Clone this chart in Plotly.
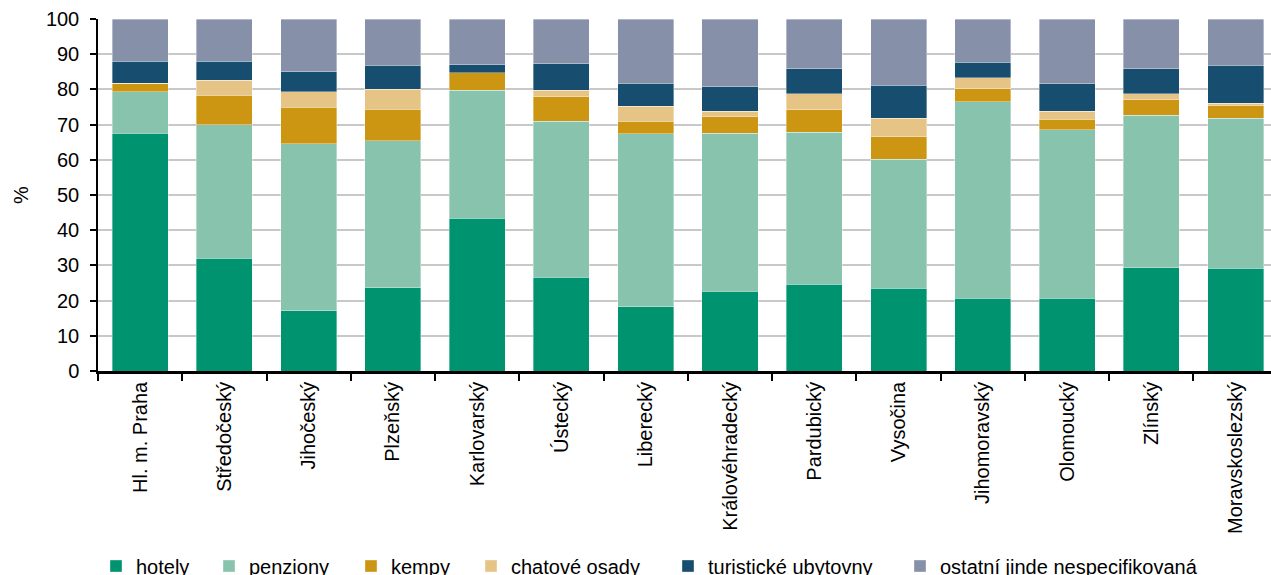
import plotly.graph_objects as go

categories = ["Hl. m. Praha", "Středočeský", "Jihočeský", "Plzeňský", "Karlovarský",
              "Ústecký", "Liberecký", "Královéhradecký", "Pardubický", "Vysočina",
              "Jihomoravský", "Olomoucký", "Zlínský", "Moravskoslezský"]

hotely = [67.6, 32.0, 17.1, 23.6, 43.4, 26.6, 18.3, 22.6, 24.6, 23.5, 20.6, 20.6, 29.4, 29.2]
penziony = [11.8, 38.0, 47.5, 41.8, 36.4, 44.4, 49.1, 44.9, 43.2, 36.6, 55.9, 47.9, 43.2, 42.6]
kempy = [2.4, 8.3, 10.4, 9.0, 5.0, 6.9, 3.5, 4.7, 6.4, 6.4, 3.7, 3.0, 4.4, 3.5]
chatove_osady = [0.0, 4.3, 4.3, 5.6, 0.0, 1.8, 4.3, 1.6, 4.5, 5.3, 3.1, 2.3, 1.8, 0.8]
turisticke_ubytovny = [6.2, 5.4, 5.7, 6.9, 2.2, 7.6, 6.5, 6.9, 7.2, 9.4, 4.4, 7.8, 7.1, 10.8]
ostatni = [12.0, 12.0, 15.0, 13.1, 13.0, 12.7, 18.3, 19.3, 14.1, 18.8, 12.3, 18.4, 14.1, 13.1]

series_names = ["hotely", "penziony", "kempy", "chatové osady", "turistické ubytovny",
                "ostatní jinde nespecifikovaná"]
series_values = [hotely, penziony, kempy, chatove_osady, turisticke_ubytovny, ostatni]
colors = ["#00936F", "#88C3AD", "#CC9612", "#E6C486", "#174D6E", "#8690A8"]

W, H = 1271, 575
legend_px = [115, 228, 370, 490, 687, 919]

fig = go.Figure()
legend_ids = ["legend", "legend2", "legend3", "legend4", "legend5", "legend6"]
for i, (name, vals, col) in enumerate(zip(series_names, series_values, colors)):
    fig.add_trace(go.Bar(
        x=categories, y=vals, name=name,
        marker=dict(color=col, line=dict(width=0.6, color="rgba(255,255,255,0.6)")),
        legend=legend_ids[i],
    ))

font = dict(family="Liberation Sans, Arial, sans-serif", size=20, color="#000000")
layout_legends = {}
for i, lid in enumerate(legend_ids):
    layout_legends[lid] = dict(
        xref="container", yref="container",
        x=(legend_px[i] - 19) / W, y=(575 - 566) / H,
        xanchor="left", yanchor="middle",
        orientation="h", font=font, bgcolor="rgba(0,0,0,0)",
        borderwidth=0, itemclick=False, itemdoubleclick=False,
    )

fig.update_layout(
    width=W, height=H,
    barmode="stack", bargap=0.335,
    plot_bgcolor="white", paper_bgcolor="white",
    margin=dict(l=98, r=0, t=19, b=204, pad=0),
    font=font,
    showlegend=True,
    **layout_legends,
)
fig.update_xaxes(
    type="category", range=[-0.5, 13.42],
    showline=True, linecolor="#000000", linewidth=2.5,
    ticks="outside", tickson="boundaries", ticklen=7, tickwidth=1.5, tickcolor="#000000",
    tickangle=-90, showgrid=False, tickfont=font,
)
fig.update_yaxes(
    range=[0, 100], dtick=10, tick0=0,
    showline=True, linecolor="#000000", linewidth=1.5,
    ticks="outside", ticklen=6, tickwidth=1.5, tickcolor="#000000",
    showgrid=True, gridcolor="#C8C8C8", gridwidth=1.5,
    zeroline=False, tickfont=font, ticklabelstandoff=7,
    title=dict(text="%", font=font, standoff=12),
)

fig.write_html("out.html", config={"displayModeBar": False},
               post_script="document.body.style.margin='0';")
